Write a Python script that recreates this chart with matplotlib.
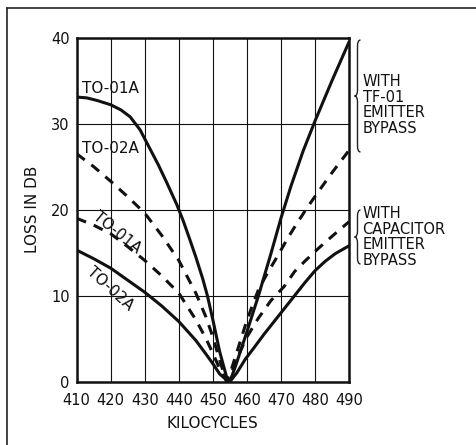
import matplotlib
matplotlib.use("Agg")
import matplotlib.pyplot as plt
from matplotlib.path import Path
from matplotlib.patches import PathPatch
from matplotlib.lines import Line2D

plt.rcParams['font.family'] = ['DejaVu Sans']

# ---- data ----
# TO-01A with TF-01 emitter bypass (solid, steep)
tf01a_x = [410, 413, 416, 420, 423, 425.7, 428.6, 431.5, 434, 436.4, 439.4, 441.3, 443,
           445, 447, 448.4, 450, 452, 454, 455,
           456.6, 460, 463.4, 467, 470, 473, 476.5, 480, 485, 490]
tf01a_y = [33.1, 33.0, 32.7, 32.2, 31.6, 30.8, 29.3, 27.1, 25.2, 23.2, 20.6, 18.7, 16.8,
           14.5, 12.0, 10.0, 7.2, 3.5, 0.6, 0.0,
           1.75, 5.8, 10.0, 14.8, 19.0, 22.8, 26.8, 30.3, 35.0, 39.5]
# TO-02A with TF-01 emitter bypass (dashed)
tf02a_x = [410, 415, 420, 425, 430, 435, 440, 445, 448, 450, 452, 454,
           455.5, 457.5, 459.5, 461.5, 463.5, 466, 469, 472, 475, 478, 481, 485, 490]
tf02a_y = [26.5, 25.0, 23.3, 21.5, 19.6, 17.0, 14.1, 10.3, 7.5, 5.2, 2.5, 0.0,
           1.5, 4.0, 6.5, 8.75, 10.8, 12.6, 14.6, 16.7, 18.6, 20.4, 22.1, 24.3, 26.9]
# TO-01A with capacitor emitter bypass (dashed)
cap01a_x = [410, 415, 420, 425, 430, 435, 440, 445, 448, 450, 452, 454,
            456, 458, 460, 463.4, 467, 471, 474, 477, 481, 485, 490]
cap01a_y = [19.0, 18.2, 17.2, 15.7, 14.1, 12.3, 10.3, 7.2, 5.0, 3.3, 1.5, 0.2,
            1.5, 3.5, 5.2, 7.4, 9.4, 11.1, 12.8, 14.0, 15.5, 16.9, 18.6]
# TO-02A with capacitor emitter bypass (solid)
cap02a_x = [410, 415, 420, 425, 430, 435, 440, 445, 448, 450, 452, 454, 455,
            457, 459.5, 462, 465, 470, 474, 477, 480, 483, 486, 490]
cap02a_y = [15.3, 14.3, 13.2, 11.8, 10.4, 8.8, 7.0, 4.8, 3.2, 2.1, 0.9, 0.2, 0.0,
            1.0, 2.6, 3.9, 5.5, 8.0, 10.0, 11.5, 12.9, 14.0, 14.9, 15.8]

x_ticks = [410, 420, 430, 440, 450, 460, 470, 480, 490]
y_ticks = [0, 10, 20, 30, 40]

W, H = 476, 445
fig = plt.figure(figsize=(W / 100, H / 100), dpi=100)
fig.patch.set_facecolor('white')

# axes box in pixels: left 76.7, right 349, top 37.7, bottom 381.7
ax = fig.add_axes([76.7 / W, (H - 381.7) / H, (349 - 76.7) / W, (381.7 - 37.7) / H])
ax.set_xlim(410, 490)
ax.set_ylim(0, 40)
ax.set_xticks(x_ticks)
ax.set_yticks(y_ticks)
ax.tick_params(length=0, labelsize=10.5, colors='#111111')
ax.tick_params(axis='x', pad=8)
ax.tick_params(axis='y', pad=5)
ax.grid(True, color='#111111', linewidth=0.8)
ax.set_axisbelow(True)
for s in ax.spines.values():
    s.set_linewidth(1.8)
    s.set_color('#111111')

lw = 2.2
dash = (0, (3.3, 2.7))
ax.plot(tf01a_x, tf01a_y, color='#111111', lw=lw, solid_capstyle='round', solid_joinstyle='round')
ax.plot(tf02a_x, tf02a_y, color='#111111', lw=lw, linestyle=dash)
ax.plot(cap01a_x, cap01a_y, color='#111111', lw=lw, linestyle=dash)
ax.plot(cap02a_x, cap02a_y, color='#111111', lw=lw, solid_capstyle='round', solid_joinstyle='round')

ax.set_xlabel('KILOCYCLES', fontsize=11, labelpad=6, color='#111111')
ax.set_ylabel('LOSS IN DB', fontsize=11, labelpad=8, color='#111111')

# curve labels
ax.text(411.6, 34.1, 'TO-01A', fontsize=11, ha='left', va='center', color='#111111')
ax.text(411.6, 27.1, 'TO-02A', fontsize=11, ha='left', va='center', color='#111111')
ax.text(421.8, 17.4, 'TO-01A', fontsize=11, ha='center', va='center', rotation=-39,
        rotation_mode='anchor', color='#111111')
ax.text(419.8, 10.8, 'TO-02A', fontsize=11, ha='center', va='center', rotation=-42,
        rotation_mode='anchor', color='#111111')

# right-hand annotations
fig.text(363 / W, 1 - 74 / H, 'WITH\nTF-01\nEMITTER\nBYPASS', fontsize=10.5,
         ha='left', va='top', linespacing=1.05, color='#111111')
fig.text(362.5 / W, 1 - 206 / H, 'WITH\nCAPACITOR\nEMITTER\nBYPASS', fontsize=10.5,
         ha='left', va='top', linespacing=1.05, color='#111111')


def brace(xl, xm, xr, ytop, ybot):
    # pixel coordinates measured from top-left of image
    yt = H - ytop
    yb = H - ybot
    ym = (yt + yb) / 2
    r = min(6, (yt - yb) / 6)
    verts = [(xr, yt), (xm, yt), (xm, yt - r),
             (xm, ym + r),
             (xm, ym), (xl, ym),
             (xm, ym), (xm, ym - r),
             (xm, yb + r),
             (xm, yb), (xr, yb)]
    codes = [Path.MOVETO, Path.CURVE3, Path.CURVE3,
             Path.LINETO,
             Path.CURVE3, Path.CURVE3,
             Path.CURVE3, Path.CURVE3,
             Path.LINETO,
             Path.CURVE3, Path.CURVE3]
    verts = [(x / W, y / H) for x, y in verts]
    p = PathPatch(Path(verts, codes), transform=fig.transFigure, fill=False,
                  edgecolor='#222222', lw=1.0)
    fig.add_artist(p)


brace(354.5, 357.5, 360.5, 40, 152)
brace(354.5, 357.5, 360.5, 210, 264)

# outer frame lines (top and left only)
fig.add_artist(Line2D([7 / W, 1.0], [1 - 7.5 / H, 1 - 7.5 / H], transform=fig.transFigure,
                      color='#222222', lw=1.2))
fig.add_artist(Line2D([7 / W, 7 / W], [0.0, 1 - 7.5 / H], transform=fig.transFigure,
                      color='#222222', lw=1.2))

fig.savefig('out.png', dpi=100, facecolor='white')
